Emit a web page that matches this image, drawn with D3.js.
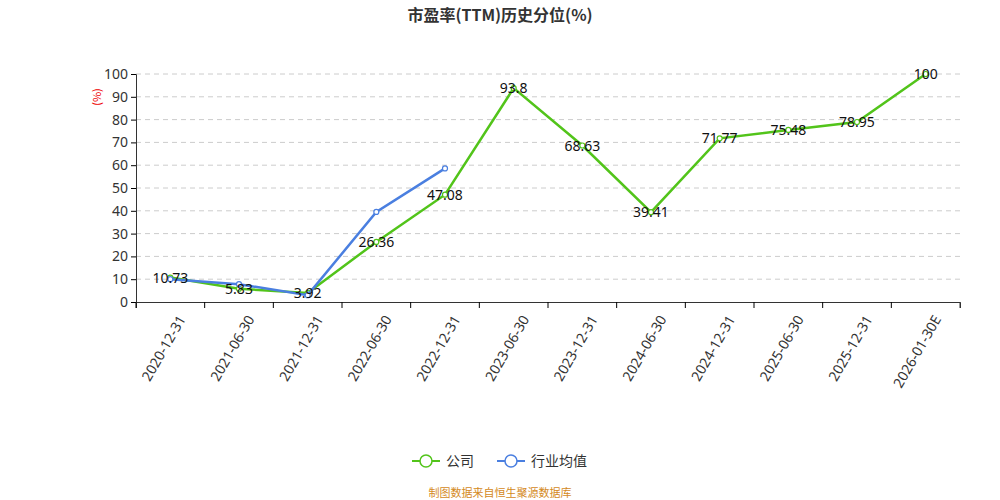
<!DOCTYPE html>
<html><head><meta charset="utf-8">
<script src="https://cdn.jsdelivr.net/npm/d3@7"></script>
<style>body{margin:0;background:#fff;font-family:"Noto Sans CJK SC","Noto Sans",sans-serif}</style>
</head><body><svg id="c" width="1000" height="500"></svg>
<script>
const categories = ["2020-12-31","2021-06-30","2021-12-31","2022-06-30","2022-12-31","2023-06-30","2023-12-31","2024-06-30","2024-12-31","2025-06-30","2025-12-31","2026-01-30E"];
const company = [10.73,5.83,3.92,26.36,47.08,93.8,68.63,39.41,71.77,75.48,78.95,100];
const industry = [10.0,7.8,3.0,39.5,58.6];
const yTicks = [0,10,20,30,40,50,60,70,80,90,100];

const svg = d3.select("#c");
const x = d3.scaleBand().domain(categories).range([136, 960]);
const y = d3.scaleLinear().domain([0, 100]).range([302, 74]);
const cx = d => x(d) + x.bandwidth() / 2;

svg.append("text").attr("x", 500).attr("y", 21).attr("text-anchor", "middle")
  .attr("font-size", 16).attr("font-weight", "bold").attr("fill", "#333").text("市盈率(TTM)历史分位(%)");

svg.append("g").selectAll("line").data(yTicks.slice(1)).join("line")
  .attr("x1", 136).attr("x2", 960).attr("y1", d => y(d)).attr("y2", d => y(d))
  .attr("stroke", "#ccc").attr("stroke-dasharray", "5,4");

const ya = svg.append("g").attr("transform", "translate(136,0)")
  .call(d3.axisLeft(y).tickValues(yTicks).tickSize(5));
ya.select(".domain").attr("stroke", "#333");
ya.selectAll("text").attr("font-size", 14).attr("fill", "#333").attr("font-family", "Noto Sans");

svg.append("text").attr("transform", "translate(101,97) rotate(-90)").attr("text-anchor", "middle")
  .attr("font-size", 11).attr("fill", "#e00").text("(%)");

const xa = svg.append("g").attr("transform", "translate(0,302)")
  .call(d3.axisBottom(x).tickSize(6));
xa.select(".domain").attr("stroke", "#333");
xa.selectAll(".tick line").attr("transform", `translate(${-x.bandwidth()/2},0)`);
xa.append("line").attr("x1", 960).attr("x2", 960).attr("y1", 0).attr("y2", 6).attr("stroke", "#333");
xa.selectAll("text").attr("font-size", 14).attr("fill", "#333").attr("font-family", "Noto Sans")
  .attr("text-anchor", "end").attr("dy", "0.35em")
  .attr("transform", "translate(4,10) rotate(-60)");

const line = d3.line().x((d, i) => cx(categories[i])).y(d => y(d));
function series(data, color) {
  svg.append("path").datum(data).attr("d", line).attr("fill", "none")
    .attr("stroke", color).attr("stroke-width", 2.5);
  svg.append("g").selectAll("circle").data(data).join("circle")
    .attr("cx", (d, i) => cx(categories[i])).attr("cy", d => y(d)).attr("r", 2.5)
    .attr("fill", "#fff").attr("stroke", color).attr("stroke-width", 1.2);
}
series(company, "#52c41a");
series(industry, "#4a7fe0");

svg.append("g").selectAll("text").data(company).join("text")
  .attr("x", (d, i) => cx(categories[i])).attr("y", d => y(d) + 5)
  .attr("text-anchor", "middle").attr("font-size", 14).attr("fill", "#111")
  .attr("font-family", "Noto Sans").text(d => d);

const legend = [["公司", "#52c41a", 412], ["行业均值", "#4a7fe0", 497]];
legend.forEach(([t, c, lx]) => {
  const g = svg.append("g");
  g.append("line").attr("x1", lx).attr("x2", lx + 28).attr("y1", 461).attr("y2", 461).attr("stroke", c).attr("stroke-width", 2);
  g.append("circle").attr("cx", lx + 14).attr("cy", 461).attr("r", 6).attr("fill", "#fff").attr("stroke", c).attr("stroke-width", 1.5);
  g.append("text").attr("x", lx + 34).attr("y", 466).attr("font-size", 14).attr("fill", "#333").text(t);
});

svg.append("text").attr("x", 500).attr("y", 497).attr("text-anchor", "middle")
  .attr("font-size", 11).attr("fill", "#d4891c").text("制图数据来自恒生聚源数据库");
</script></body></html>
